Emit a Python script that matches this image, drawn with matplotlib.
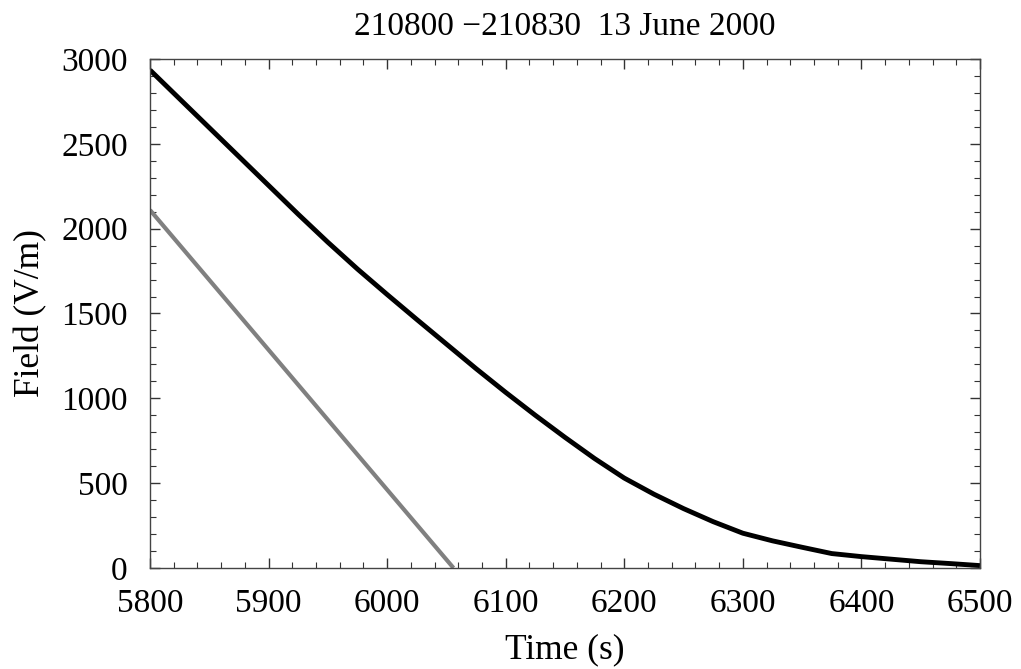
import numpy as np
import matplotlib
matplotlib.use('Agg')
import matplotlib.pyplot as plt
from matplotlib.ticker import MultipleLocator

# field decay curve (black)
time_s = [5800, 5825, 5850, 5875, 5900, 5925, 5950, 5975, 6000, 6025, 6050,
          6075, 6100, 6125, 6150, 6175, 6200, 6225, 6250, 6275, 6300, 6325,
          6350, 6375, 6400, 6425, 6450, 6475, 6500]
field = [2935, 2765, 2595, 2425, 2255, 2085, 1920, 1762, 1612, 1465, 1320,
         1175, 1035, 900, 770, 645, 530, 435, 350, 273, 205, 160,
         122, 85, 67, 52, 37, 26, 14]

# straight reference line (gray)
ref_time = [5800, 6056]
ref_field = [2110, 0]

title = "210800 \u2212210830  13 June 2000"

plt.rcParams['font.family'] = ['Liberation Serif', 'DejaVu Serif']

fig = plt.figure(figsize=(10.21, 6.69), dpi=100)
ax = fig.add_axes([0.1469, 0.151, 0.8129, 0.7608])

ax.plot(ref_time, ref_field, color='#808080', lw=3.0, solid_capstyle='butt')
ax.plot(time_s, field, color='black', lw=3.5, solid_capstyle='butt',
        solid_joinstyle='round')

ax.set_xlim(5800, 6500)
ax.set_ylim(0, 3000)
ax.xaxis.set_major_locator(MultipleLocator(100))
ax.xaxis.set_minor_locator(MultipleLocator(20))
ax.yaxis.set_major_locator(MultipleLocator(500))
ax.yaxis.set_minor_locator(MultipleLocator(100))

ax.tick_params(which='both', direction='in', top=True, right=True,
               labelsize=24, color='#333333')
ax.tick_params(which='major', length=7, width=1.0)
ax.tick_params(which='minor', length=4, width=0.8)
ax.tick_params(axis='x', which='major', pad=15)
ax.tick_params(axis='y', which='major', pad=16)

for sp in ax.spines.values():
    sp.set_linewidth(1.0)
    sp.set_color('#444444')

ax.set_xlabel('Time (s)', fontsize=25.5, labelpad=10)
ax.set_ylabel('Field (V/m)', fontsize=25.5, labelpad=10)
ax.set_title(title, fontsize=24, pad=17)

fig.savefig('out.png', dpi=100)
